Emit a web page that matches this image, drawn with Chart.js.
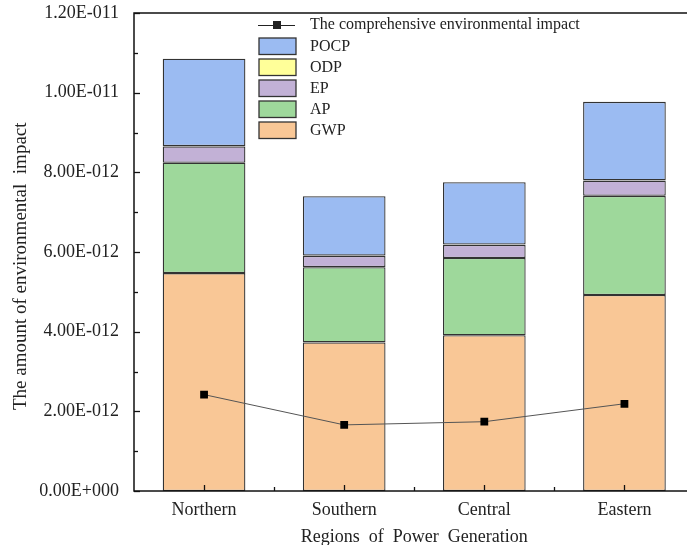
<!DOCTYPE html>
<html>
<head>
<meta charset="utf-8">
<script src="https://cdn.jsdelivr.net/npm/chart.js@4"></script>
<style>
  html, body { margin: 0; padding: 0; background: #fff; overflow: hidden; }
  #wrap { width: 700px; height: 545px; }
</style>
</head>
<body>
<div id="wrap"><canvas id="chart" width="700" height="545"></canvas></div>
<script>
// Data (values in units of 1E-12)
const regions = ["Northern", "Southern", "Central", "Eastern"];
const gwp  = [5.47, 3.73, 3.91, 4.92];
const ap   = [2.77, 1.89, 1.94, 2.49];
const ep   = [0.41, 0.28, 0.33, 0.38];
const odp  = [0.01, 0.01, 0.01, 0.01];
const pocp = [2.19, 1.49, 1.56, 1.97];
const comprehensive = [2.42, 1.66, 1.74, 2.19];
const yTickLabels = ["0.00E+000", "2.00E-012", "4.00E-012", "6.00E-012", "8.00E-012", "1.00E-011", "1.20E-011"];

const colors = {
  GWP: "#F9C796",
  AP: "#9ED89B",
  EP: "#C2B1D6",
  ODP: "#FFFF99",
  POCP: "#9BBBF2"
};
const serif = "'Liberation Serif', 'DejaVu Serif', serif";
const scaleE = (arr) => arr.map(v => v * 1e-12);

const barSet = (label, data) => ({
  type: "bar",
  label: label,
  data: scaleE(data),
  backgroundColor: colors[label],
  borderColor: "#333",
  borderWidth: 1.3,
  borderSkipped: false,
  stack: "bars",
  order: 1,
  categoryPercentage: 1,
  barPercentage: 0.59
});

// frame, inward ticks and legend
const decorations = {
  id: "decorations",
  afterDatasetsDraw(chart) {
    const { ctx, chartArea: a, scales } = chart;
    const x = scales.x, y = scales.y;
    ctx.save();
    ctx.strokeStyle = "#111";
    ctx.lineWidth = 1.5;
    ctx.strokeRect(a.left, a.top, a.right - a.left, a.bottom - a.top);

    // y ticks
    ctx.lineWidth = 1.3;
    for (let i = 0; i <= 12; i++) {
      const py = Math.round(y.getPixelForValue(i * 1e-12)) + 0.5;
      const len = i % 2 === 0 ? 6 : 4;
      ctx.beginPath();
      ctx.moveTo(a.left, py);
      ctx.lineTo(a.left + len, py);
      ctx.stroke();
    }
    // x ticks
    for (let i = 0; i < regions.length; i++) {
      const px = Math.round(x.getPixelForValue(i)) + 0.5;
      ctx.beginPath();
      ctx.moveTo(px, a.bottom);
      ctx.lineTo(px, a.bottom - 6);
      ctx.stroke();
      if (i > 0) {
        const mx = Math.round((x.getPixelForValue(i) + x.getPixelForValue(i - 1)) / 2) + 0.5;
        ctx.beginPath();
        ctx.moveTo(mx, a.bottom);
        ctx.lineTo(mx, a.bottom - 4);
        ctx.stroke();
      }
    }

    // legend
    const lx = a.left + 124, ly = a.top + 12;
    const pitch = 21;
    ctx.font = "16px " + serif;
    ctx.fillStyle = "#222";
    ctx.textBaseline = "middle";
    ctx.strokeStyle = "#222";
    ctx.lineWidth = 1;
    ctx.beginPath();
    ctx.moveTo(lx, ly + 0.5);
    ctx.lineTo(lx + 37, ly + 0.5);
    ctx.stroke();
    ctx.fillRect(lx + 15, ly - 4, 8, 8);
    ctx.fillText("The comprehensive environmental impact", lx + 52, ly);
    const items = ["POCP", "ODP", "EP", "AP", "GWP"];
    items.forEach((name, k) => {
      const cy = ly + pitch * (k + 1);
      ctx.fillStyle = colors[name];
      ctx.fillRect(lx + 1, cy - 8, 37, 16.5);
      ctx.strokeStyle = "#333";
      ctx.lineWidth = 1.3;
      ctx.strokeRect(lx + 1, cy - 8, 37, 16.5);
      ctx.fillStyle = "#222";
      ctx.fillText(name, lx + 52, cy + 1);
    });
    ctx.restore();
  }
};

new Chart(document.getElementById("chart"), {
  data: {
    labels: regions,
    datasets: [
      {
        type: "line",
        label: "The comprehensive environmental impact",
        data: scaleE(comprehensive),
        stack: "line",
        order: 0,
        borderColor: "#555",
        borderWidth: 1,
        pointStyle: "rect",
        pointRadius: 5.5,
        pointBackgroundColor: "#000",
        pointBorderColor: "#000",
        pointBorderWidth: 0,
        tension: 0
      },
      barSet("GWP", gwp),
      barSet("AP", ap),
      barSet("EP", ep),
      barSet("ODP", odp),
      barSet("POCP", pocp)
    ]
  },
  options: {
    responsive: false,
    animation: false,
    layout: { padding: { top: 13, right: 5, left: 4, bottom: 0 } },
    plugins: {
      legend: { display: false },
      tooltip: { enabled: false }
    },
    scales: {
      x: {
        stacked: true,
        grid: { display: false, drawTicks: false },
        border: { display: false },
        ticks: { color: "#222", font: { family: serif, size: 18 }, padding: 8 },
        title: {
          display: true,
          text: "Regions  of  Power  Generation",
          color: "#222",
          font: { family: serif, size: 18 },
          padding: { top: 7, bottom: -3 }
        },
        afterFit(scale) { scale.height = 54; scale.paddingLeft = 0; scale.paddingRight = 0; }
      },
      y: {
        stacked: true,
        min: 0,
        max: 1.2e-11,
        grid: { display: false, drawTicks: false },
        border: { display: false },
        ticks: {
          stepSize: 2e-12,
          color: "#222",
          font: { family: serif, size: 18 },
          padding: 15,
          callback: (v, i) => yTickLabels[i]
        },
        title: {
          display: true,
          text: "The amount of environmental  impact      ",
          color: "#222",
          font: { family: serif, size: 19 },
          padding: { top: 6, bottom: 4 }
        },
        afterFit(scale) { scale.width = 130; scale.paddingTop = 0; scale.paddingBottom = 0; }
      }
    }
  },
  plugins: [decorations]
});
</script>
</body>
</html>
